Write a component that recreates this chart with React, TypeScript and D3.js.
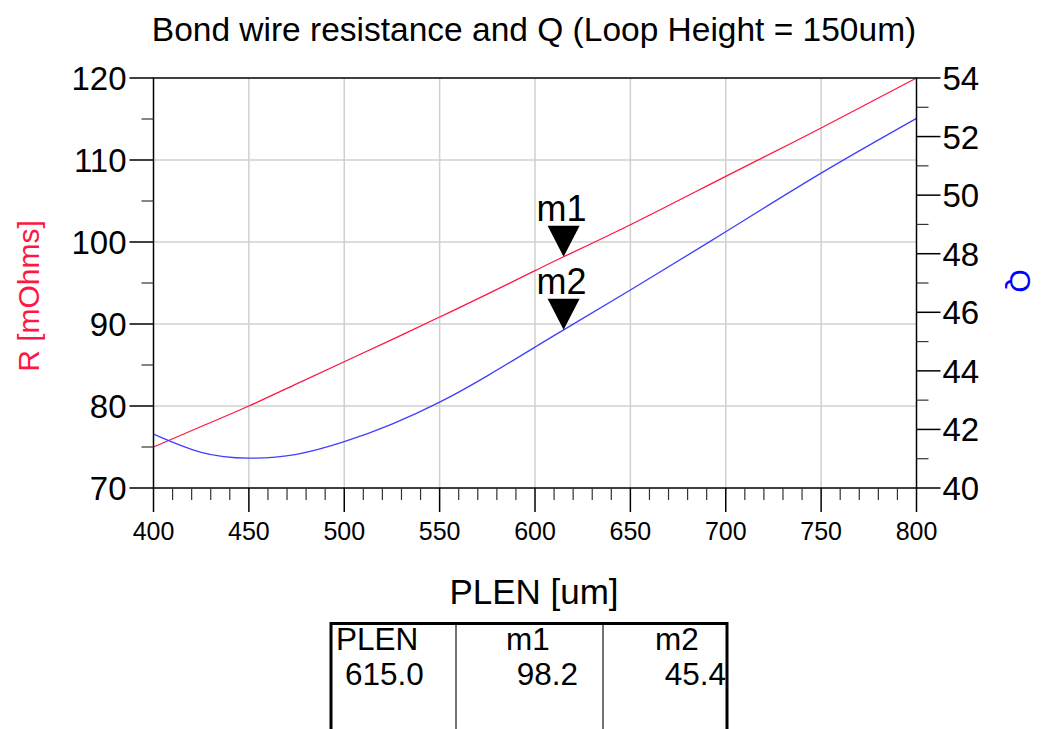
import React from "react";
import * as d3 from "d3";

const plen = [400, 425, 450, 475, 500, 525, 550, 575, 600, 615, 650, 700, 750, 800];
const rValues = [75.0, 77.5, 80.0, 82.7, 85.4, 88.1, 90.85, 93.65, 96.5, 98.2, 102.1, 108.0, 113.9, 120.0];
const qValues = [41.84, 41.22, 41.02, 41.15, 41.58, 42.18, 42.93, 43.83, 44.81, 45.4, 46.76, 48.75, 50.75, 52.62];

const xTicks = [400, 450, 500, 550, 600, 650, 700, 750, 800];
const rTicks = [70, 80, 90, 100, 110, 120];
const qTicks = [40, 42, 44, 46, 48, 50, 52, 54];

const markers = [
  { name: "m1", x: 615, value: 98.2, axis: "R" },
  { name: "m2", x: 615, value: 45.4, axis: "Q" },
];
const tableHeader = ["PLEN", "m1", "m2"];
const tableRow = ["615.0", "98.2", "45.4"];

const RED = "#ff1744";
const BLUE = "#3f3fff";
const FONT = "'Liberation Sans', Arial, sans-serif";

export default function App() {
  const L = 153.5, R = 916.5, T = 78, B = 488;
  const x = d3.scaleLinear().domain([400, 800]).range([L, R]);
  const yR = d3.scaleLinear().domain([70, 120]).range([B, T]);
  const yQ = d3.scaleLinear().domain([40, 54]).range([B, T]);

  const lineR = d3.line<number>().x((_, i) => x(plen[i])).y((d) => yR(d)).curve(d3.curveNatural);
  const lineQ = d3.line<number>().x((_, i) => x(plen[i])).y((d) => yQ(d)).curve(d3.curveNatural);

  const xMinor = d3.range(400, 801, 10).filter((v) => v % 50 !== 0);
  const rMinor = d3.range(75, 120, 10);
  const qMinor = d3.range(41, 54, 2);

  return (
    <svg width={1045} height={729} style={{ position: "absolute", left: 0, top: 0, background: "#fff" }} fontFamily={FONT}>
      <rect x={0} y={0} width={1045} height={729} fill="#fff" />
      <text x={534} y={41} textAnchor="middle" fontSize={33.5}>
        Bond wire resistance and Q (Loop Height = 150um)
      </text>
      {/* grid */}
      {xTicks.slice(1, -1).map((t) => (
        <line key={"gx" + t} x1={x(t)} x2={x(t)} y1={T} y2={B} stroke="#d0d0d0" strokeWidth={1.5} />
      ))}
      {rTicks.slice(1, -1).map((t) => (
        <line key={"gy" + t} x1={L} x2={R} y1={yR(t)} y2={yR(t)} stroke="#d0d0d0" strokeWidth={1.5} />
      ))}
      {/* lines */}
      <path d={lineR(rValues) || ""} fill="none" stroke={RED} strokeWidth={1.3} />
      <path d={lineQ(qValues) || ""} fill="none" stroke={BLUE} strokeWidth={1.3} />
      {/* frame */}
      <rect x={L} y={T} width={R - L} height={B - T} fill="none" stroke="#000" strokeWidth={1.5} />
      {/* x ticks */}
      {xTicks.map((t) => (
        <g key={"xt" + t}>
          <line x1={x(t)} x2={x(t)} y1={B} y2={B + 24} stroke="#000" strokeWidth={1.5} />
          <text x={x(t)} y={540} textAnchor="middle" fontSize={25}>{t}</text>
        </g>
      ))}
      {xMinor.map((t) => (
        <line key={"xm" + t} x1={x(t)} x2={x(t)} y1={B} y2={B + 12} stroke="#333" strokeWidth={1.2} />
      ))}
      {/* left axis */}
      {rTicks.map((t) => (
        <g key={"rt" + t}>
          <line x1={L - 24} x2={L} y1={yR(t)} y2={yR(t)} stroke="#000" strokeWidth={1.5} />
          <text x={L - 27} y={yR(t) + 12} textAnchor="end" fontSize={33}>{t}</text>
        </g>
      ))}
      {rMinor.map((t) => (
        <line key={"rm" + t} x1={L - 12} x2={L} y1={yR(t)} y2={yR(t)} stroke="#333" strokeWidth={1.2} />
      ))}
      {/* right axis */}
      {qTicks.map((t) => (
        <g key={"qt" + t}>
          <line x1={R} x2={R + 24} y1={yQ(t)} y2={yQ(t)} stroke="#000" strokeWidth={1.5} />
          <text x={R + 26} y={yQ(t) + 12} textAnchor="start" fontSize={33}>{t}</text>
        </g>
      ))}
      {qMinor.map((t) => (
        <line key={"qm" + t} x1={R} x2={R + 12} y1={yQ(t)} y2={yQ(t)} stroke="#333" strokeWidth={1.2} />
      ))}
      {/* axis titles */}
      <text transform={`translate(39,${(T + B) / 2 + 13}) rotate(-90)`} textAnchor="middle" fontSize={30} fill={RED}>
        R [mOhms]
      </text>
      <text transform={`translate(1010,${(T + B) / 2 - 2}) rotate(90)`} textAnchor="middle" fontSize={30} fill="#0000ff">
        Q
      </text>
      <text x={534} y={604} textAnchor="middle" fontSize={35}>PLEN [um]</text>
      {/* markers */}
      {markers.map((m) => {
        const px = x(m.x);
        const py = m.axis === "R" ? yR(m.value) : yQ(m.value);
        return (
          <g key={m.name}>
            <path d={`M${px},${py} L${px - 16},${py - 31} L${px + 16},${py - 31} Z`} fill="#000" />
            <text x={px - 2} y={py - 36} textAnchor="middle" fontSize={36}>{m.name}</text>
          </g>
        );
      })}
      {/* table */}
      <g>
        <line x1={456} x2={456} y1={623} y2={729} stroke="#444" strokeWidth={1.5} />
        <line x1={603} x2={603} y1={623} y2={729} stroke="#444" strokeWidth={1.5} />
        <path d="M331,729 L331,623.5 L727,623.5 L727,729" fill="none" stroke="#000" strokeWidth={3} />
        <text x={336} y={650} fontSize={31.5}>{tableHeader[0]}</text>
        <text x={528} y={650} textAnchor="middle" fontSize={31.5}>{tableHeader[1]}</text>
        <text x={677} y={650} textAnchor="middle" fontSize={31.5}>{tableHeader[2]}</text>
        <text x={345} y={685} fontSize={31.5}>{tableRow[0]}</text>
        <text x={578} y={685} textAnchor="end" fontSize={31.5}>{tableRow[1]}</text>
        <text x={726} y={685} textAnchor="end" fontSize={31.5}>{tableRow[2]}</text>
      </g>
    </svg>
  );
}
